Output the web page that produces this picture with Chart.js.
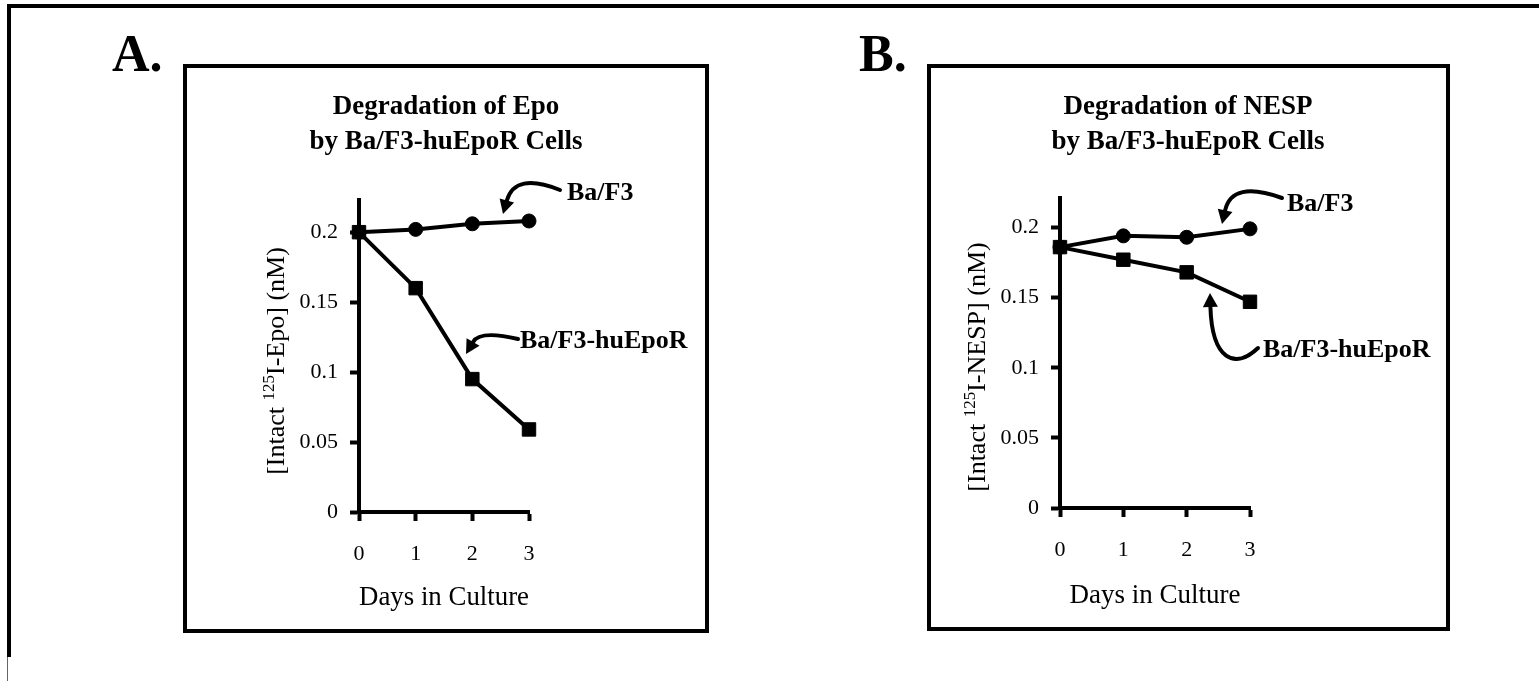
<!DOCTYPE html>
<html>
<head>
<meta charset="utf-8">
<script src="https://cdn.jsdelivr.net/npm/chart.js@4/dist/chart.umd.min.js"></script>
<style>
  body { margin: 0; width: 1539px; height: 681px; overflow: hidden; background: #fff; position: relative; font-family: "Liberation Serif", serif; }
  .line { position: absolute; background: #000; }
  .box { position: absolute; border: 4px solid #000; box-sizing: border-box; }
  .letter { position: absolute; font: bold 52px "Liberation Serif", serif; line-height: 1; }
  canvas { position: absolute; }
</style>
</head>
<body>
<!-- outer frame (only top and left edges show) -->
<div class="line" style="left:7px;top:4px;width:1532px;height:4px"></div>
<div class="line" style="left:7px;top:4px;width:4px;height:653px"></div>
<div class="line" style="left:7px;top:657px;width:1px;height:24px;background:#666"></div>

<div class="letter" style="left:112px;top:28px">A.</div>
<div class="letter" style="left:859px;top:28px">B.</div>

<div class="box" style="left:183px;top:64px;width:526px;height:569px"></div>
<div class="box" style="left:927px;top:64px;width:523px;height:567px"></div>

<canvas id="chartA" width="516" height="559" style="left:188px;top:69px"></canvas>
<canvas id="chartB" width="512" height="557" style="left:932px;top:69px"></canvas>

<script>
// Data
const days = [0, 1, 2, 3];
const epoBaF3 = [0.2, 0.202, 0.206, 0.208];
const epoHuEpoR = [0.2, 0.16, 0.095, 0.059];
const nespBaF3 = [0.186, 0.194, 0.193, 0.199];
const nespHuEpoR = [0.186, 0.177, 0.168, 0.147];
const yTicks = [0, 0.05, 0.1, 0.15, 0.2];
const yTickLabels = ['0', '0.05', '0.1', '0.15', '0.2'];
const xTicks = [0, 1, 2, 3];
const seriesNames = ['Ba/F3', 'Ba/F3-huEpoR'];

const SERIF = '"Liberation Serif", "Times New Roman", serif';

function drawArrow(ctx, pts) {
  const tip = pts[pts.length - 1], prev = pts[pts.length - 2];
  let dx = tip[0] - prev[0], dy = tip[1] - prev[1];
  const len = Math.hypot(dx, dy);
  dx /= len; dy /= len;
  const head = 14, half = 7.5;
  const bx = tip[0] - dx * head, by = tip[1] - dy * head;
  ctx.beginPath();
  ctx.moveTo(pts[0][0], pts[0][1]);
  if (pts.length === 3) ctx.quadraticCurveTo(pts[1][0], pts[1][1], bx, by);
  else ctx.bezierCurveTo(pts[1][0], pts[1][1], pts[2][0], pts[2][1], bx, by);
  ctx.lineWidth = 4;
  ctx.lineCap = 'round';
  ctx.stroke();
  ctx.beginPath();
  ctx.moveTo(tip[0], tip[1]);
  ctx.lineTo(bx - dy * half, by + dx * half);
  ctx.lineTo(bx + dy * half, by - dx * half);
  ctx.closePath();
  ctx.fill();
}

// titles, y label with superscript, arrows + labels
function decor(p) {
  return {
    id: 'decor',
    afterDraw(chart) {
      const ctx = chart.ctx, area = chart.chartArea;
      ctx.save();
      ctx.fillStyle = '#000';
      ctx.strokeStyle = '#000';

      ctx.font = 'bold 27px ' + SERIF;
      ctx.textAlign = 'center';
      ctx.textBaseline = 'alphabetic';
      ctx.fillText(p.title[0], chart.width / 2, 45);
      ctx.fillText(p.title[1], chart.width / 2, 80);

      // rotated y title
      const big = '26px ' + SERIF, small = '17px ' + SERIF;
      ctx.font = big;
      const w1 = ctx.measureText(p.yLabel[0]).width;
      const w3 = ctx.measureText(p.yLabel[2]).width;
      ctx.font = small;
      const w2 = ctx.measureText(p.yLabel[1]).width;
      const total = w1 + w2 + w3;
      ctx.translate(area.left - 75, (area.top + area.bottom) / 2 + p.yShift);
      ctx.rotate(-Math.PI / 2);
      ctx.textAlign = 'left';
      ctx.font = big;
      ctx.fillText(p.yLabel[0], -total / 2, 0);
      ctx.font = small;
      ctx.fillText(p.yLabel[1], -total / 2 + w1, -10);
      ctx.font = big;
      ctx.fillText(p.yLabel[2], -total / 2 + w1 + w2, 0);
      ctx.setTransform(1, 0, 0, 1, 0, 0);

      p.arrows.forEach(a => drawArrow(ctx, a));
      ctx.font = 'bold 26px ' + SERIF;
      ctx.textAlign = 'left';
      ctx.textBaseline = 'middle';
      p.notes.forEach(n => ctx.fillText(n.text, n.x, n.y));
      ctx.restore();
    }
  };
}

function makeChart(p) {
  const mk = (vals, i) => ({
    label: seriesNames[i],
    data: days.map((d, k) => ({ x: d, y: vals[k] })),
    borderColor: '#000',
    backgroundColor: '#000',
    borderWidth: 4,
    pointStyle: i === 0 ? 'circle' : 'rect',
    pointRadius: i === 0 ? 7 : 9.5,
    pointBorderWidth: 1,
    tension: 0,
    clip: false
  });
  const axisGrid = { display: true, drawOnChartArea: false, drawTicks: true, tickLength: 9, tickWidth: 4, tickColor: '#000' };
  new Chart(document.getElementById(p.id), {
    type: 'line',
    data: { datasets: [mk(p.series[0], 0), mk(p.series[1], 1)] },
    options: {
      responsive: false,
      animation: false,
      layout: { padding: { top: p.padTop, right: p.padRight, left: 0, bottom: 0 } },
      plugins: { legend: { display: false }, tooltip: { enabled: false } },
      scales: {
        x: {
          type: 'linear', min: 0, max: 3,
          afterBuildTicks: s => { s.ticks = xTicks.map(v => ({ value: v })); },
          afterFit: s => { s.height = p.xHeight; },
          grid: axisGrid,
          border: { display: true, width: 4, color: '#000' },
          ticks: { color: '#000', padding: 20, maxRotation: 0, font: { family: SERIF, size: 22 } },
          title: { display: true, text: 'Days in Culture', color: '#000', padding: { top: 0, bottom: 14 }, font: { family: SERIF, size: 27 } }
        },
        y: {
          type: 'linear', min: 0, max: p.yMax,
          afterBuildTicks: s => { s.ticks = yTicks.map(v => ({ value: v })); },
          afterFit: s => { s.width = p.axisLeft; },
          grid: axisGrid,
          border: { display: true, width: 4, color: '#000' },
          ticks: {
            color: '#000', padding: 12, font: { family: SERIF, size: 22 },
            callback: v => yTickLabels[yTicks.indexOf(v)]
          }
        }
      }
    },
    plugins: [decor(p)]
  });
}

makeChart({
  id: 'chartA',
  series: [epoBaF3, epoHuEpoR],
  title: ['Degradation of Epo', 'by Ba/F3-huEpoR Cells'],
  yLabel: ['[Intact ', '125', 'I-Epo] (nM)'],
  yMax: 0.223, axisLeft: 171, padTop: 131, padRight: 175, xHeight: 116, yShift: 5,
  arrows: [
    [[372, 121], [327, 103], [315, 145]],
    [[330, 270], [292, 261], [278, 285]]
  ],
  notes: [
    { text: 'Ba/F3', x: 379, y: 124 },
    { text: 'Ba/F3-huEpoR', x: 332, y: 272 }
  ]
});

makeChart({
  id: 'chartB',
  series: [nespBaF3, nespHuEpoR],
  title: ['Degradation of NESP', 'by Ba/F3-huEpoR Cells'],
  yLabel: ['[Intact ', '125', 'I-NESP] (nM)'],
  yMax: 0.221, axisLeft: 128, padTop: 129, padRight: 194, xHeight: 118, yShift: 14,
  arrows: [
    [[350, 129], [300, 111], [290, 155]],
    [[326, 279], [303, 301], [280, 291], [278, 224]]
  ],
  notes: [
    { text: 'Ba/F3', x: 355, y: 135 },
    { text: 'Ba/F3-huEpoR', x: 331, y: 281 }
  ]
});
</script>
</body>
</html>
